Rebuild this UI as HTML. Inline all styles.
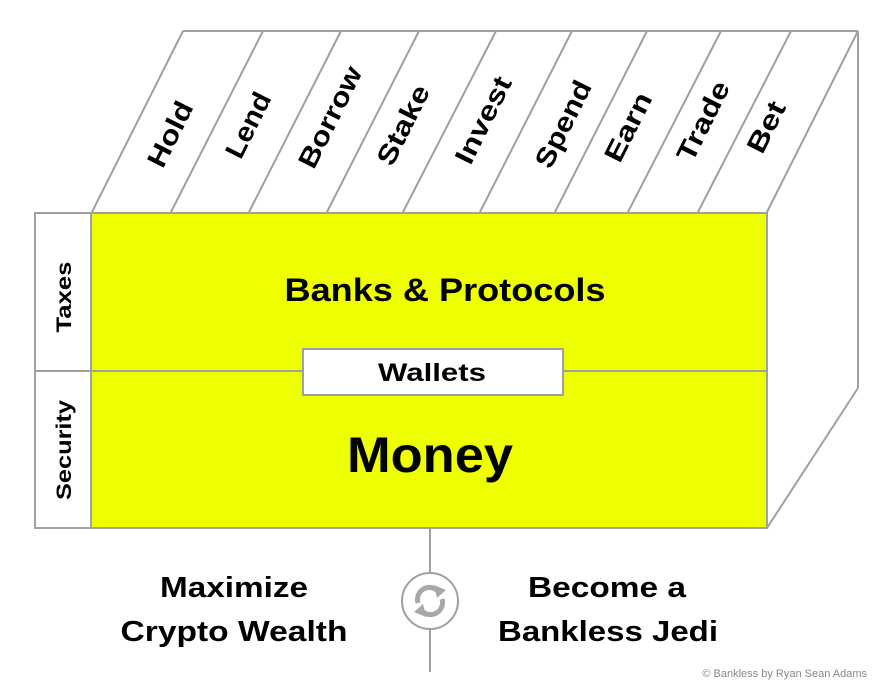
<!DOCTYPE html>
<html><head><meta charset="utf-8"><style>
html,body{margin:0;padding:0;background:#fff;}
svg{display:block;}
text{font-family:"Liberation Sans",sans-serif;fill:#000;font-weight:bold;}
</style></head><body>
<svg width="896" height="690" viewBox="0 0 896 690" xmlns="http://www.w3.org/2000/svg">
<g stroke="#a0a0a0" stroke-width="2" fill="none">
  <line x1="183" y1="31" x2="858" y2="31"/>
  <line x1="92" y1="212" x2="183" y2="31"/>
  <line x1="171" y1="212" x2="263" y2="31"/>
  <line x1="249" y1="212" x2="341" y2="31"/>
  <line x1="327" y1="212" x2="419" y2="31"/>
  <line x1="403" y1="212" x2="496" y2="31"/>
  <line x1="480" y1="212" x2="572" y2="31"/>
  <line x1="555" y1="212" x2="647" y2="31"/>
  <line x1="628" y1="212" x2="721" y2="31"/>
  <line x1="698" y1="212" x2="791" y2="31"/>
  <line x1="767" y1="212" x2="858" y2="31"/>
  <line x1="858" y1="31" x2="858" y2="388"/>
  <line x1="767" y1="528" x2="858" y2="388"/>
</g>
<rect x="91" y="213" width="676" height="315" fill="#eeff00" stroke="#a0a0a0" stroke-width="2"/>
<rect x="35" y="213" width="56" height="315" fill="#fff" stroke="#a0a0a0" stroke-width="2"/>
<line x1="35" y1="371" x2="767" y2="371" stroke="#a0a0a0" stroke-width="2"/>
<rect x="303" y="349" width="260" height="46" fill="#fff" stroke="#a0a0a0" stroke-width="2"/>
<line x1="430" y1="529" x2="430" y2="672" stroke="#a0a0a0" stroke-width="2"/>
<circle cx="430" cy="601" r="28" fill="#fff" stroke="#a0a0a0" stroke-width="2"/>
<g stroke="#a8a8a8" stroke-width="5" fill="none">
  <path d="M418 603 A12 12 0 0 1 438 591"/>
  <path d="M442 599 A12 12 0 0 1 422 611"/>
</g>
<polygon points="434,585 446,590 437,598" fill="#a8a8a8"/>
<polygon points="426,617 414,612 423,604" fill="#a8a8a8"/>

<g font-size="27">
  <text transform="translate(172,135) rotate(-63.4)" text-anchor="middle" dominant-baseline="middle" textLength="70" lengthAdjust="spacingAndGlyphs">Hold</text>
  <text transform="translate(250,126) rotate(-63.4)" text-anchor="middle" dominant-baseline="middle" textLength="70" lengthAdjust="spacingAndGlyphs">Lend</text>
  <text transform="translate(332,118) rotate(-63.4)" text-anchor="middle" dominant-baseline="middle" textLength="110" lengthAdjust="spacingAndGlyphs">Borrow</text>
  <text transform="translate(405,126) rotate(-63.4)" text-anchor="middle" dominant-baseline="middle" textLength="86" lengthAdjust="spacingAndGlyphs">Stake</text>
  <text transform="translate(485,121) rotate(-63.4)" text-anchor="middle" dominant-baseline="middle" textLength="94" lengthAdjust="spacingAndGlyphs">Invest</text>
  <text transform="translate(565,125) rotate(-63.4)" text-anchor="middle" dominant-baseline="middle" textLength="94" lengthAdjust="spacingAndGlyphs">Spend</text>
  <text transform="translate(630,128) rotate(-63.4)" text-anchor="middle" dominant-baseline="middle" textLength="74" lengthAdjust="spacingAndGlyphs">Earn</text>
  <text transform="translate(705,122) rotate(-63.4)" text-anchor="middle" dominant-baseline="middle" textLength="86" lengthAdjust="spacingAndGlyphs">Trade</text>
  <text transform="translate(768,128) rotate(-63.4)" text-anchor="middle" dominant-baseline="middle" textLength="54" lengthAdjust="spacingAndGlyphs">Bet</text>
</g>
<text transform="translate(71,297) rotate(-90)" text-anchor="middle" font-size="21" textLength="71" lengthAdjust="spacingAndGlyphs">Taxes</text>
<text transform="translate(71,450) rotate(-90)" text-anchor="middle" font-size="21" textLength="100" lengthAdjust="spacingAndGlyphs">Security</text>
<text x="445" y="301" text-anchor="middle" font-size="32" textLength="321" lengthAdjust="spacingAndGlyphs">Banks &amp; Protocols</text>
<text x="432" y="381" text-anchor="middle" font-size="25" textLength="108" lengthAdjust="spacingAndGlyphs">Wallets</text>
<text x="430" y="472" text-anchor="middle" font-size="50" textLength="166" lengthAdjust="spacingAndGlyphs">Money</text>
<text x="234" y="597" text-anchor="middle" font-size="29" textLength="148" lengthAdjust="spacingAndGlyphs">Maximize</text>
<text x="234" y="641" text-anchor="middle" font-size="29" textLength="227" lengthAdjust="spacingAndGlyphs">Crypto Wealth</text>
<text x="607" y="597" text-anchor="middle" font-size="29" textLength="158" lengthAdjust="spacingAndGlyphs">Become a</text>
<text x="608" y="641" text-anchor="middle" font-size="29" textLength="220" lengthAdjust="spacingAndGlyphs">Bankless Jedi</text>
<text x="867" y="677" text-anchor="end" font-size="11" style="fill:#888;font-weight:normal">© Bankless by Ryan Sean Adams</text>
</svg>
</body></html>
